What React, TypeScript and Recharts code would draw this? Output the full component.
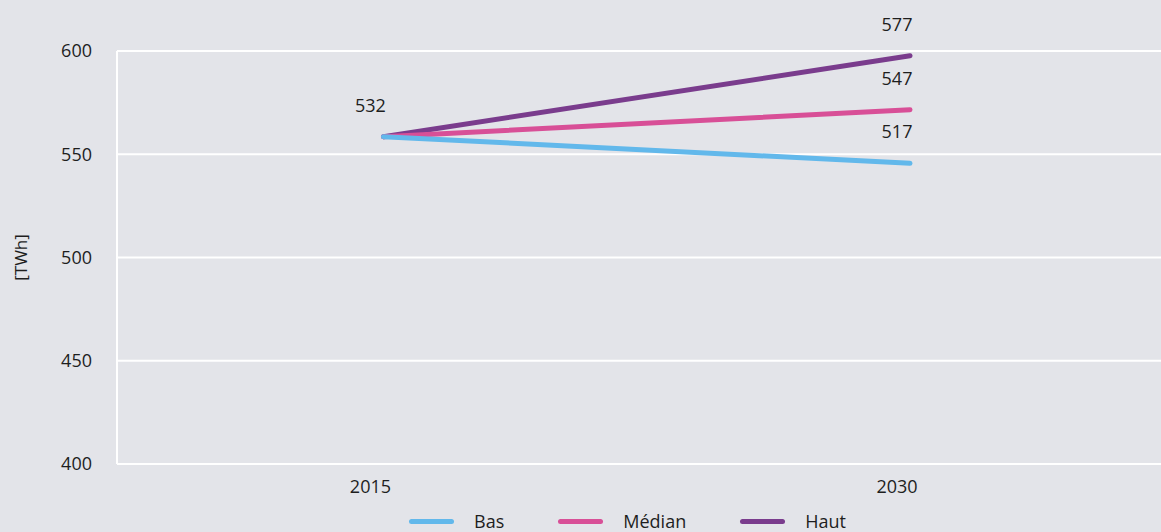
import React from "react";
import { LineChart, Line, XAxis, YAxis, CartesianGrid, Legend, LabelList } from "recharts";

const years = [2015, 2030];
const basValues = [558.5, 545.6];
const medianValues = [558.5, 571.6];
const hautValues = [558.5, 597.7];
const basLabels = [null, "517"];
const medianLabels = [null, "547"];
const hautLabels = ["532", "577"];
const yTicks = [400, 450, 500, 550, 600];
const seriesNames = ["Bas", "Médian", "Haut"];
const seriesColors = ["#62b8eb", "#d84f97", "#7a3c8d"];

const data = years.map((y, i) => ({
  year: y,
  bas: basValues[i],
  median: medianValues[i],
  haut: hautValues[i],
  lb: basLabels[i],
  lm: medianLabels[i],
  lh: hautLabels[i],
}));

const FONT = "'Open Sans', sans-serif";
const TEXT = "#1e1e1e";

const renderLabel = (props: any) => {
  const { x, y, value } = props;
  if (value === null || value === undefined || value === "") return null;
  return (
    <text x={x - 13} y={y - 32} textAnchor="middle" dominantBaseline="central" fill={TEXT} fontSize={18} fontFamily={FONT}>
      {value}
    </text>
  );
};

const renderLegend = () => (
  <div style={{ display: "flex", justifyContent: "center", alignItems: "center", paddingLeft: 94, height: 22, fontFamily: FONT, fontSize: 18, color: TEXT }}>
    {seriesNames.map((n, i) => (
      <div key={n} style={{ display: "flex", alignItems: "center", marginRight: i < 2 ? 54 : 0 }}>
        <div style={{ width: 45, height: 5, borderRadius: 3, background: seriesColors[i], marginRight: 20 }} />
        <span>{n}</span>
      </div>
    ))}
  </div>
);

const renderYLabel = (props: any) => {
  const vb = props.viewBox || {};
  const cx = vb.x + 20;
  const cy = vb.y + vb.height / 2;
  return (
    <text x={cx} y={cy} transform={`rotate(-90, ${cx}, ${cy})`} textAnchor="middle" dominantBaseline="central" fill={TEXT} fontSize={17} fontFamily={FONT}>
      [TWh]
    </text>
  );
};

export default function App() {
  return (
    <div style={{ position: "absolute", left: 0, top: 0, width: 1161, height: 532, background: "#e3e4e9" }}>
      <LineChart width={1161} height={532} data={data} margin={{ top: 51, right: 0, bottom: 0, left: 0 }}>
        <CartesianGrid vertical={false} stroke="#ffffff" strokeWidth={2} />
        <XAxis
          dataKey="year"
          type="number"
          domain={[2007.41, 2037.15]}
          ticks={years}
          axisLine={false}
          tickLine={false}
          tickSize={0}
          tickMargin={16}
          height={46}
          tick={{ dx: -13, fill: TEXT, fontSize: 18, fontFamily: FONT }}
          allowDataOverflow
        />
        <YAxis
          type="number"
          domain={[400, 600]}
          ticks={yTicks}
          width={117}
          axisLine={{ stroke: "#ffffff", strokeWidth: 2 }}
          tickLine={false}
          tickSize={0}
          tickMargin={25}
          tick={{ fill: TEXT, fontSize: 18, fontFamily: FONT }}
          label={renderYLabel}
        />
        <Legend verticalAlign="bottom" content={renderLegend} wrapperStyle={{ left: 0, width: 1161 }} />
        <Line dataKey="haut" name="Haut" stroke={seriesColors[2]} strokeWidth={5} strokeLinecap="round" dot={false} activeDot={false} isAnimationActive={false}>
          <LabelList dataKey="lh" content={renderLabel} />
        </Line>
        <Line dataKey="median" name="Médian" stroke={seriesColors[1]} strokeWidth={5} strokeLinecap="round" dot={false} activeDot={false} isAnimationActive={false}>
          <LabelList dataKey="lm" content={renderLabel} />
        </Line>
        <Line dataKey="bas" name="Bas" stroke={seriesColors[0]} strokeWidth={5} strokeLinecap="round" dot={false} activeDot={false} isAnimationActive={false}>
          <LabelList dataKey="lb" content={renderLabel} />
        </Line>
      </LineChart>
    </div>
  );
}
